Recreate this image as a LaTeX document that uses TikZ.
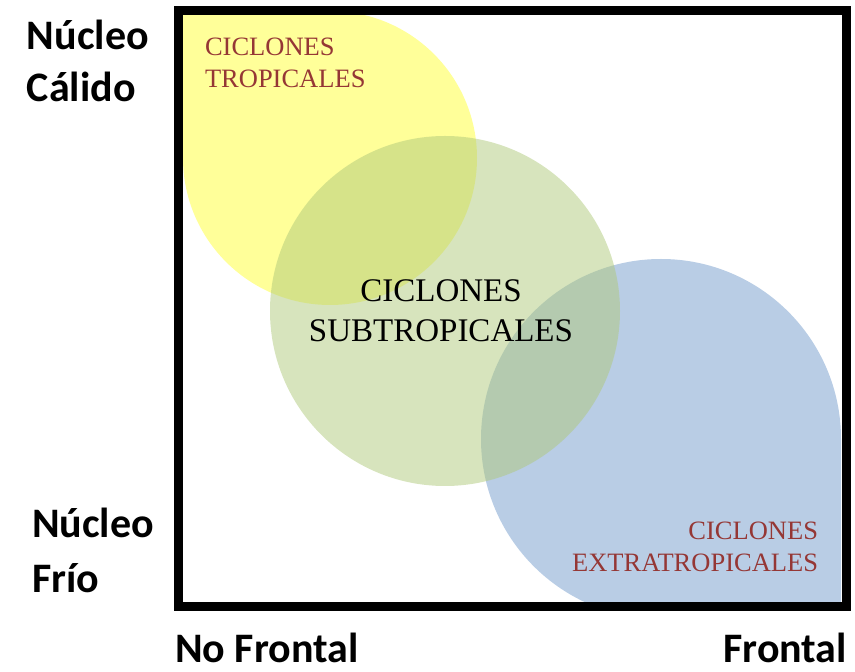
\documentclass[tikz,border=0pt]{standalone}
\usepackage{fontspec}
\setmainfont{Liberation Serif}
\newfontfamily\calfont{Carlito}
\definecolor{tropyellow}{RGB}{255,255,153}
\definecolor{subgreen}{RGB}{175,201,123}
\definecolor{extblue}{RGB}{115,155,203}
\definecolor{labelred}{RGB}{149,55,53}

\begin{document}
\begin{tikzpicture}[x=1pt,y=1pt,
   every node/.style={inner sep=0pt,outer sep=0pt},
   axislabel/.style={font=\calfont\bfseries\fontsize{42}{52}\selectfont,align=left},
   typelabel/.style={font=\fontsize{26.5}{32}\selectfont,text=labelred},
   mainlabel/.style={font=\fontsize{33}{40}\selectfont,align=center}]

\useasboundingbox (0,0) rectangle (855,672);

% regions, cut to the frame
\begin{scope}
  \clip (182.5,69.5) rectangle (841.5,657);
  \fill[tropyellow] (183,514) -- (183,661) -- (330,661)
     arc[start angle=90,end angle=-180,radius=147] -- cycle;
  \fill[extblue,opacity=0.5] (661,53) -- (841,53) -- (841,233)
     arc[start angle=0,end angle=270,radius=180] -- cycle;
  \fill[subgreen,opacity=0.5] (445,361) circle (175);
\end{scope}
\draw[line width=9pt] (178,65) rectangle (846,661.5);

\node[typelabel,align=left,anchor=base west] (trop) at (205,584) {CICLONES\\TROPICALES};
\node[mainlabel,anchor=base] (subtrop) at (441,330) {CICLONES\\SUBTROPICALES};
\node[typelabel,align=right,anchor=base east] (extra) at (818,100) {CICLONES\\EXTRATROPICALES};

\node[axislabel,anchor=base west] (warm) at (27,570) {Núcleo\\Cálido};
\node[axislabel,anchor=base west] (cold) at (32,79) {Núcleo\\[3pt]Frío};
\node[axislabel,anchor=base west] (nofront) at (175,9) {No Frontal};
\node[axislabel,anchor=base east] (front) at (847,9) {Frontal};

\end{tikzpicture}
\end{document}
